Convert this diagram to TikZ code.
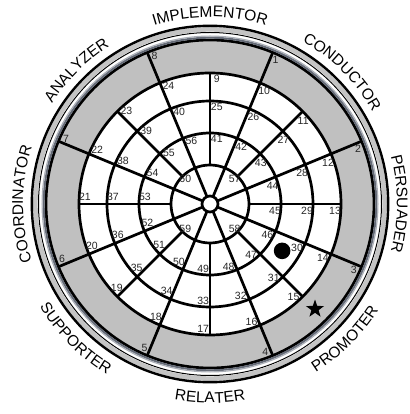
\documentclass[tikz,border=0pt]{standalone}
\usepackage{fontspec}
\setmainfont{Liberation Sans}
\usetikzlibrary{calc,decorations.text,shapes.geometric}

\definecolor{bandgray}{RGB}{192,192,192}
\definecolor{rimgray}{RGB}{196,196,196}
\definecolor{steel}{RGB}{100,106,118}
\definecolor{steellight}{RGB}{172,176,184}

\newcommand{\rolefont}{\fontsize{15.5}{16}\selectfont}
% role names on the rim, upper half read clockwise, lower half counter-clockwise
\newcommand{\roleup}[2]{\path[decorate, decoration={text along path, text align=center, text={|\rolefont|#2}}] (#1+45:187) arc[start angle=#1+45, end angle=#1-45, radius=187];}
\newcommand{\roledown}[2]{\path[decorate, decoration={text along path, text align=center, text={|\rolefont|#2}}] (#1-45:199) arc[start angle=#1-45, end angle=#1+45, radius=199];}

\tikzset{
  ring/.style={line width=2.7pt},
  spoke/.style={line width=2.7pt},
  num/.style={font=\fontsize{10.5}{10.5}\selectfont, text=black!85, inner sep=0pt},
}

\begin{document}
\begin{tikzpicture}[x=1pt,y=1pt]

    \useasboundingbox (-210,-210) rectangle (199,204);
    \coordinate (O) at (0,0);

    % Bande grise
    \fill[bandgray, even odd rule] (O) circle (164) (O) circle (131);

    % Cercles
    \foreach \r in {39,71,103,131,164}
        \draw[ring] (O) circle (\r);

    % Bordure
    \draw[steel, line width=2pt] (O) circle (166.3);
    \draw[steellight, line width=1.2pt] (O) circle (167.9);
    \draw[line width=1pt] (O) circle (171.5);
    \draw[rimgray, line width=4.6pt] (O) circle (174.6);
    \draw[line width=2.4pt] (O) circle (178.2);

    % Rayons
    \foreach \a in {22.5,67.5,...,337.5}
        \draw[spoke] (O) -- (\a:164);
    \foreach \a in {0,45,...,315}
        \draw[spoke] (\a:39) -- (\a:131);
    \draw[ring, fill=white] (O) circle (8);

    % Numeros
    \foreach \k in {0,...,7} {
        \pgfmathtruncatemacro{\n}{1+\k}
        \node[num] (n\n) at ($(67.5-45*\k:158)+(-22.5-45*\k:5.5)$) {\n};
    }
    \foreach \k in {0,...,15} {
        \pgfmathtruncatemacro{\n}{9+\k}
        \node[num] (n\n) at ($(90-22.5*\k:125)+(-22.5*\k:6.8)$) {\n};
        \pgfmathtruncatemacro{\n}{25+\k}
        \node[num] (n\n) at ($(90-22.5*\k:97)+(-22.5*\k:6.8)$) {\n};
        \pgfmathtruncatemacro{\n}{41+\k}
        \node[num] (n\n) at ($(90-22.5*\k:65)+(-22.5*\k:6.8)$) {\n};
    }
    \foreach \k in {0,...,3} {
        \pgfmathtruncatemacro{\n}{57+\k}
        \node[num] (n\n) at (45-90*\k:35) {\n};
    }

    % Marques
    \node[circle, fill, minimum size=16.6pt, inner sep=0pt] (dot) at (-33:86) {};
    \node[star, star points=5, star point ratio=2.5, fill, minimum size=19pt, inner sep=0pt] (star) at (-45:148.5) {};

    % Roles
    \roleup{90}{IMPLEMENTOR}
    \roleup{45}{CONDUCTOR}
    \roleup{0}{PERSUADER}
    \roleup{180}{COORDINATOR}
    \roleup{135}{ANALYZER}
    \roledown{-45}{PROMOTER}
    \roledown{-90}{RELATER}
    \roledown{-135}{SUPPORTER}

\end{tikzpicture}
\end{document}
